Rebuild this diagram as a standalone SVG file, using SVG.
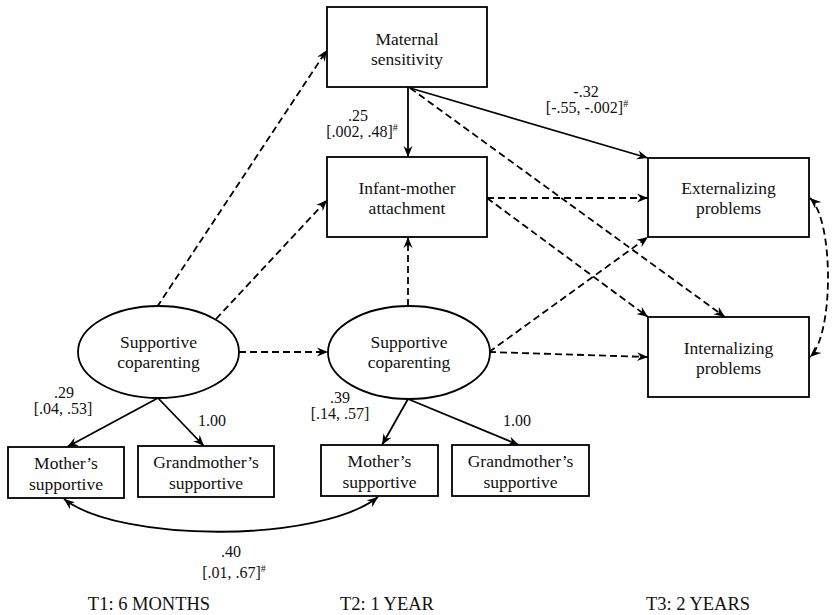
<svg xmlns="http://www.w3.org/2000/svg" width="834" height="615" viewBox="0 0 834 615">
<style>
.box{fill:#fff;stroke:#000;stroke-width:1.8}
.lbl{font-family:"Liberation Serif","Times New Roman",serif;font-size:17.5px;fill:#111;text-anchor:middle}
.num{font-family:"Liberation Serif","Times New Roman",serif;font-size:16px;fill:#111;text-anchor:middle}
.time{font-family:"Liberation Serif","Times New Roman",serif;font-size:18.5px;fill:#111;text-anchor:middle}
.sup{font-size:10px}
.solid{fill:none;stroke:#000;stroke-width:1.8;marker-end:url(#ah)}
.dash{fill:none;stroke:#000;stroke-width:1.8;stroke-dasharray:7,4;marker-end:url(#ah)}
.both{marker-start:url(#ah)}
</style>
<defs>
<marker id="ah" markerUnits="userSpaceOnUse" markerWidth="12" markerHeight="10" refX="11" refY="5" orient="auto-start-reverse" viewBox="0 0 12 10">
<path d="M0,0.5 L11,5 L0,9.5 L3.5,5 Z" fill="#000"/>
</marker>
</defs>
<rect width="834" height="615" fill="#fff"/>
<g id="connectors">
<line class="dash" x1="157" y1="307" x2="327" y2="50"/>
<line class="dash" x1="216" y1="319" x2="327" y2="200"/>
<line class="solid" x1="408" y1="87" x2="408" y2="157"/>
<line class="solid" x1="410" y1="88" x2="648" y2="158"/>
<line class="dash" x1="410" y1="88" x2="725" y2="317"/>
<line class="dash" x1="487" y1="198" x2="648" y2="198"/>
<line class="dash" x1="487" y1="198" x2="648" y2="317"/>
<line class="dash" x1="489" y1="352" x2="648" y2="237"/>
<line class="dash" x1="489" y1="352" x2="648" y2="357"/>
<line class="dash" x1="239" y1="352" x2="328" y2="352"/>
<line class="dash" x1="408" y1="306" x2="408" y2="237"/>
<path class="dash both" d="M810,198 C834,220 834,335 810,357"/>
<line class="solid" x1="158" y1="398" x2="67" y2="447"/>
<line class="solid" x1="158" y1="398" x2="204" y2="446"/>
<line class="solid" x1="408" y1="399" x2="382" y2="445"/>
<line class="solid" x1="408" y1="399" x2="519" y2="445"/>
<path class="solid both" d="M64,499 C120,543 320,543 378,497"/>
</g>
<g id="maternal">
<rect class="box" x="327" y="7" width="160" height="80"/>
<text class="lbl" x="407" y="45">Maternal</text>
<text class="lbl" x="407" y="65">sensitivity</text>
</g>
<g id="attachment">
<rect class="box" x="327" y="157" width="160" height="80"/>
<text class="lbl" x="407" y="194">Infant-mother</text>
<text class="lbl" x="407" y="214">attachment</text>
</g>
<g id="externalizing">
<rect class="box" x="648" y="158" width="161" height="79"/>
<text class="lbl" x="728.5" y="194">Externalizing</text>
<text class="lbl" x="728.5" y="214">problems</text>
</g>
<g id="internalizing">
<rect class="box" x="648" y="317" width="161" height="80"/>
<text class="lbl" x="728.5" y="354">Internalizing</text>
<text class="lbl" x="728.5" y="374">problems</text>
</g>
<g id="coparenting1">
<ellipse class="box" cx="158.5" cy="352" rx="80.5" ry="46"/>
<text class="lbl" x="158.5" y="348">Supportive</text>
<text class="lbl" x="158.5" y="368">coparenting</text>
</g>
<g id="coparenting2">
<ellipse class="box" cx="409" cy="352.5" rx="81" ry="46.5"/>
<text class="lbl" x="409" y="348">Supportive</text>
<text class="lbl" x="409" y="368">coparenting</text>
</g>
<g id="mother1">
<rect class="box" x="8" y="447" width="116" height="51"/>
<text class="lbl" x="66" y="469">Mother’s</text>
<text class="lbl" x="66" y="490">supportive</text>
</g>
<g id="grandmother1">
<rect class="box" x="138" y="446" width="136" height="51"/>
<text class="lbl" x="206" y="468">Grandmother’s</text>
<text class="lbl" x="206" y="489">supportive</text>
</g>
<g id="mother2">
<rect class="box" x="321" y="445" width="117" height="51"/>
<text class="lbl" x="379.5" y="467">Mother’s</text>
<text class="lbl" x="379.5" y="488">supportive</text>
</g>
<g id="grandmother2">
<rect class="box" x="452" y="445" width="137" height="51"/>
<text class="lbl" x="520.5" y="467">Grandmother’s</text>
<text class="lbl" x="520.5" y="488">supportive</text>
</g>
<g id="labels">
<text class="num" x="358" y="121">.25</text>
<text class="num" x="362" y="137">[.002, .48]<tspan class="sup" dy="-6">#</tspan></text>
<text class="num" x="586" y="97">-.32</text>
<text class="num" x="587" y="113">[-.55, -.002]<tspan class="sup" dy="-6">#</tspan></text>
<text class="num" x="64" y="398">.29</text>
<text class="num" x="63" y="414">[.04, .53]</text>
<text class="num" x="212" y="426">1.00</text>
<text class="num" x="340" y="403">.39</text>
<text class="num" x="340" y="419">[.14, .57]</text>
<text class="num" x="517" y="426">1.00</text>
<text class="num" x="231" y="557">.40</text>
<text class="num" x="234" y="578">[.01, .67]<tspan class="sup" dy="-6">#</tspan></text>
<text class="time" x="149" y="610">T1: 6 MONTHS</text>
<text class="time" x="387" y="610">T2: 1 YEAR</text>
<text class="time" x="698" y="610">T3: 2 YEARS</text>
</g>
</svg>
